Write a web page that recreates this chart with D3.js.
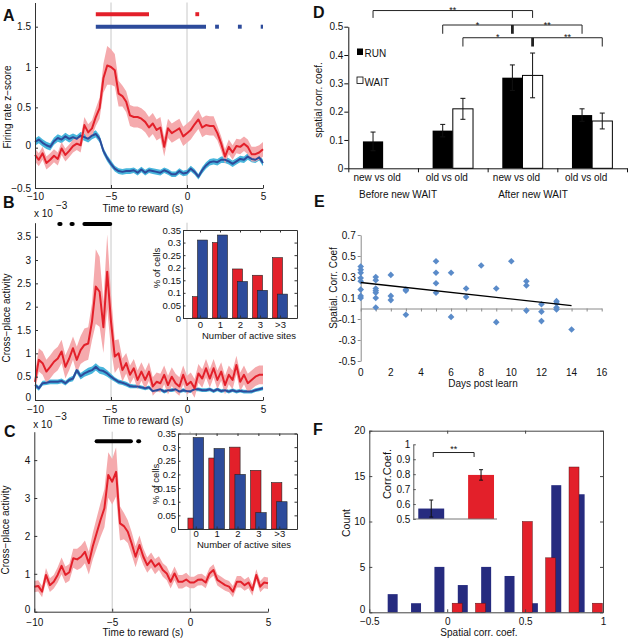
<!DOCTYPE html>
<html lang="en">
<head>
<meta charset="UTF-8"/>
<title>Reward-related activity figure</title>
<script src="https://d3js.org/d3.v7.min.js"></script>
<style>
  body { margin: 0; background: #fff; }
  svg { display: block; font-family: "Liberation Sans", Arial, sans-serif; }
  text { fill: #111; }
</style>
</head>
<body>
<script>
// ---- data ----
var times = d3.range(-10, 5.001, 0.25);   // sample grid, s
var refTimes = [-5, 0];

// A: firing rate z-score
var aRed = [-0.09,-0.15,-0.07,-0.19,-0.15,-0.10,-0.14,-0.01,-0.09,-0.04,
            0.02,0.05,0.03,0.28,0.19,0.24,0.38,0.49,0.86,1.02,
            1.00,0.96,0.67,0.64,0.57,0.40,0.38,0.38,0.36,0.32,
            0.25,0.30,0.22,0.25,0.01,0.24,0.18,0.21,0.24,0.14,
            0.18,0.22,0.29,0.35,0.25,0.28,0.27,0.27,0.18,0.05,
            -0.11,0.01,-0.06,0.02,0.01,0.05,0.01,-0.08,-0.08,-0.06,-0.02];
var aRedErr = [0.08,0.08,0.08,0.08,0.08,0.08,0.08,0.08,0.08,0.08,
               0.08,0.08,0.09,0.10,0.10,0.10,0.11,0.13,0.18,0.24,
               0.22,0.20,0.16,0.13,0.13,0.13,0.13,0.13,0.13,0.13,
               0.13,0.13,0.13,0.13,0.12,0.12,0.12,0.12,0.12,0.12,
               0.12,0.12,0.12,0.12,0.12,0.12,0.12,0.12,0.09,0.09,
               0.09,0.09,0.09,0.09,0.09,0.09,0.09,0.09,0.09,0.09,0.09];
var aBlue = [0.07,0.10,0.06,0.03,0.01,0.08,0.12,0.10,0.14,0.11,
             0.13,0.11,0.15,0.13,0.11,0.15,0.17,0.11,-0.04,-0.13,
             -0.20,-0.26,-0.29,-0.30,-0.29,-0.29,-0.28,-0.31,-0.27,-0.31,
             -0.28,-0.29,-0.30,-0.31,-0.28,-0.30,-0.33,-0.33,-0.29,-0.32,
             -0.31,-0.26,-0.30,-0.36,-0.28,-0.22,-0.18,-0.17,-0.18,-0.15,
             -0.15,-0.17,-0.20,-0.17,-0.14,-0.15,-0.11,-0.14,-0.15,-0.12,-0.19];
var aBlueErr = [0.045,0.045,0.045,0.045,0.045,0.045,0.045,0.045,0.045,0.045,
                0.045,0.045,0.045,0.045,0.045,0.045,0.045,0.045,0.04,0.04,
                0.04,0.035,0.035,0.035,0.035,0.035,0.035,0.035,0.035,0.035,
                0.035,0.035,0.035,0.035,0.035,0.035,0.035,0.035,0.035,0.035,
                0.035,0.035,0.035,0.035,0.04,0.04,0.04,0.04,0.04,0.04,
                0.04,0.04,0.04,0.04,0.04,0.04,0.04,0.04,0.04,0.04,0.04];
var aSigRed = [[-6.0,-2.5],[0.55,0.8]];
var aSigBlue = [[-6.0,1.25],[1.85,2.1],[3.35,3.6],[4.85,5.0]];

// B: cross-place activity (x 10^-3)
var bRed = [0.39,0.86,0.79,0.61,0.71,0.82,0.89,1.04,0.71,0.89,
            1.11,0.86,1.07,1.18,1.21,1.68,2.43,2.32,1.56,2.75,
            1.68,0.93,1.00,0.64,0.79,0.54,0.68,0.43,0.61,0.43,
            0.61,0.29,0.39,0.36,0.54,0.32,0.50,0.36,0.29,0.54,
            0.32,0.39,0.25,0.57,0.46,0.68,0.46,0.68,0.43,0.61,
            0.32,0.54,0.43,0.75,0.39,0.54,0.36,0.43,0.50,0.54,0.54];
var bRedErr = [0.20,0.25,0.25,0.25,0.25,0.25,0.25,0.25,0.25,0.25,
               0.25,0.28,0.30,0.35,0.35,0.40,0.80,0.75,0.55,0.80,
               0.60,0.35,0.30,0.25,0.22,0.20,0.20,0.20,0.20,0.20,
               0.20,0.20,0.20,0.20,0.20,0.20,0.20,0.20,0.20,0.20,
               0.20,0.20,0.20,0.20,0.20,0.20,0.20,0.20,0.20,0.20,
               0.20,0.20,0.20,0.20,0.20,0.20,0.20,0.20,0.20,0.20,0.20];
var bBlue = [0.32,0.25,0.36,0.37,0.39,0.39,0.39,0.41,0.36,0.43,
             0.46,0.64,0.51,0.57,0.61,0.64,0.71,0.64,0.62,0.57,
             0.50,0.44,0.39,0.37,0.34,0.30,0.29,0.29,0.27,0.25,
             0.27,0.19,0.21,0.23,0.18,0.21,0.21,0.23,0.18,0.21,
             0.19,0.19,0.23,0.23,0.21,0.21,0.23,0.19,0.23,0.19,
             0.21,0.18,0.21,0.18,0.20,0.18,0.18,0.18,0.21,0.23,0.25];
var bBlueErr = [0.05,0.05,0.05,0.05,0.05,0.05,0.05,0.05,0.05,0.05,
                0.06,0.07,0.07,0.07,0.08,0.08,0.08,0.08,0.08,0.07,
                0.06,0.05,0.05,0.05,0.05,0.05,0.04,0.04,0.04,0.04,
                0.04,0.04,0.04,0.04,0.04,0.04,0.04,0.04,0.04,0.04,
                0.04,0.04,0.04,0.04,0.04,0.04,0.04,0.04,0.04,0.04,
                0.04,0.04,0.04,0.04,0.04,0.04,0.04,0.04,0.04,0.04,0.04];
var bSig = [[-8.4,-8.32],[-7.6,-7.52],[-6.75,-5.05]];

// C: cross-place activity (x 10^-3)
var cRed = [0.66,0.68,0.53,0.97,0.70,0.79,0.97,1.21,0.97,1.04,
            1.41,1.38,1.45,1.58,1.28,1.72,2.07,2.42,2.73,3.61,
            3.43,3.69,2.33,2.26,2.11,1.80,1.45,1.76,1.45,1.23,
            1.36,1.19,1.28,1.10,1.01,0.79,1.01,0.79,0.79,0.85,
            0.77,0.77,0.84,0.85,0.77,1.01,1.10,0.84,0.77,0.70,
            0.66,0.53,0.79,0.79,0.70,0.77,0.57,0.97,0.66,0.77,0.75];
var cRedErr = [0.15,0.15,0.15,0.18,0.18,0.18,0.20,0.22,0.22,0.22,
               0.25,0.28,0.30,0.30,0.30,0.35,0.40,0.45,0.50,0.60,
               0.60,0.65,0.45,0.35,0.30,0.30,0.28,0.25,0.22,0.20,
               0.20,0.20,0.18,0.18,0.18,0.18,0.18,0.18,0.18,0.18,
               0.15,0.15,0.15,0.15,0.15,0.15,0.15,0.15,0.15,0.15,
               0.15,0.15,0.15,0.15,0.15,0.15,0.15,0.15,0.15,0.15,0.15];
var cSig = [[-6.0,-3.8],[-3.33,-3.27]];

// insets B and C: % of cells by number of active sites
var sites = ["0", "1", "2", "3", ">3"];
var bInsetRed = [0.085, 0.30, 0.195, 0.17, 0.24];
var bInsetBlue = [0.31, 0.33, 0.145, 0.11, 0.095];
var cInsetRed = [0.04, 0.26, 0.30, 0.215, 0.17];
var cInsetBlue = [0.335, 0.295, 0.20, 0.06, 0.10];

// D: spatial corr. coef.
var dGroups = ["new vs old", "old vs old", "new vs old", "old vs old"];
var dRun = [0.095, 0.133, 0.32, 0.188];
var dRunErr = [0.033, 0.022, 0.045, 0.022];
var dWait = [null, 0.21, 0.328, 0.167];
var dWaitErr = [null, 0.037, 0.079, 0.028];
var dPeriods = ["Before new WAIT", "After new WAIT"];

// E: spatial corr. coef vs days post learn
var eDays = [0,0,0,0,0,0,0,0, 1,1,1,1,1,1,1, 2,2,2, 3,3,3, 5,5,5,5, 6,6, 7,7, 8, 9,9, 10,
             11,11,11, 12,12,12, 13,13,13,13, 14];
var eCorr = [0.40,0.37,0.34,0.29,0.26,0.18,0.12,0.10, 0.30,0.27,0.19,0.17,0.15,0.10,0.01,
             0.32,0.12,0.08, 0.18,0.17,-0.06, 0.45,0.34,0.24,0.15, 0.34,-0.08, 0.19,0.11,
             0.41, 0.19,-0.13, 0.45, 0.26,0.22,-0.02, 0.04,-0.03,-0.12, 0.07,0.05,0.01,-0.01, -0.20];
var eFitDays = [0, 14];
var eFitCorr = [0.248, 0.027];

// F: histogram of spatial corr. coef.
var fBins = [-0.35, -0.2, -0.05, 0.1, 0.25, 0.4, 0.55, 0.7, 0.85, 1.0];
var fBlue = [2, 1, 5, 3, 5, 4, 1, 14, 13, 0];
var fRed = [0, 0, 0, 1, 1, 0, 10, 6, 16, 1];
var fInsetMean = [0.57, 0.795];
var fInsetErr = [0.057, 0.035];

// ---- drawing ----
var W = 628, H = 639;
var red = "#e3202a", redBand = "#f5aaad", blue = "#2d4b9b", cyan = "#48b6dc";
var fBlueCol = "#262b7f";

var svg = d3.select("body").append("svg").attr("width", W).attr("height", H);
svg.append("rect").attr("width", W).attr("height", H).attr("fill", "#fff");

function label(x, y, str, o) {
  o = o || {};
  var t = svg.append("text").attr("x", x).attr("y", y).text(str)
    .attr("font-size", o.size || 10)
    .attr("text-anchor", o.anchor || "start");
  if (o.rotate) t.attr("transform", "rotate(-90," + x + "," + y + ")");
  if (o.bold) t.attr("font-weight", "bold");
  return t;
}

function styleAxis(g, col, size) {
  g.attr("font-family", null).attr("font-size", null);
  g.selectAll("path, line").attr("stroke", col || "#333");
  g.selectAll("text").attr("font-size", size || 10).attr("fill", "#111");
  return g;
}

// lift the "0" label of a left axis so it clears the x labels in the corner
function liftZero(g) {
  g.selectAll(".tick text").filter(function(d) { return d === 0; }).attr("dy", "0.05em");
}

// line panels A, B, C
function linePanel(p) {
  var x = d3.scaleLinear().domain([-10, 5]).range([p.left, p.right]);
  var y = d3.scaleLinear().domain(p.yDomain).range([p.bottom, p.top]);
  var g = svg.append("g");

  g.selectAll(".ref").data(refTimes).enter().append("line")
    .attr("x1", function(d) { return x(d); })
    .attr("x2", function(d) { return x(d); })
    .attr("y1", p.bottom).attr("y2", p.top)
    .attr("stroke", "#c8c8c8").attr("stroke-width", 1);

  p.series.forEach(function(s) {
    var band = d3.area()
      .x(function(d, i) { return x(times[i]); })
      .y0(function(d, i) { return y(d - s.err[i]); })
      .y1(function(d, i) { return y(d + s.err[i]); });
    g.append("path").datum(s.vals).attr("d", band).attr("fill", s.band);
  });
  p.series.forEach(function(s) {
    var line = d3.line()
      .x(function(d, i) { return x(times[i]); })
      .y(function(d) { return y(d); });
    g.append("path").datum(s.vals).attr("d", line)
      .attr("fill", "none").attr("stroke", s.color).attr("stroke-width", 2)
      .attr("stroke-linejoin", "round");
  });

  p.sig.forEach(function(s) {
    g.selectAll(null).data(s.segs).enter().append("line")
      .attr("x1", function(d) { return x(d[0]); })
      .attr("x2", function(d) { return x(d[1]); })
      .attr("y1", y(s.level)).attr("y2", y(s.level))
      .attr("stroke", s.color).attr("stroke-width", 4)
      .attr("stroke-linecap", s.cap || "butt");
  });

  var yAxis = d3.axisLeft(y).tickValues(p.yTicks).tickSize(-3).tickSizeOuter(0)
    .tickPadding(4).tickFormat(d3.format("~g"));
  var yg = styleAxis(g.append("g").attr("transform", "translate(" + p.left + ",0)").call(yAxis));
  liftZero(yg);
  var xAxis = d3.axisBottom(x).tickValues([-10, -5, 0, 5]).tickSize(-3).tickSizeOuter(0)
    .tickPadding(p.xPad).tickFormat(d3.format("~g"));
  styleAxis(g.append("g").attr("transform", "translate(0," + p.bottom + ")").call(xAxis));

  label(143, p.bottom + 24, "Time to reward (s)", { anchor: "middle" });
  label(p.ylabX, p.ylabY, p.ylab, { anchor: "middle", rotate: true });
  if (p.exp) {
    label(p.left - 1, p.exp, "x 10");
    label(p.left + 21, p.exp - 8, "\u22123");
  }
}

linePanel({
  left: 35, right: 263, top: 2.5, bottom: 188, yDomain: [-0.5, 1.8],
  yTicks: [-0.5, 0, 0.5, 1, 1.5], xPad: 5,
  series: [{ vals: aBlue, err: aBlueErr, color: blue, band: cyan },
           { vals: aRed, err: aRedErr, color: red, band: redBand }],
  sig: [{ segs: aSigRed, level: 1.655, color: red },
        { segs: aSigBlue, level: 1.5, color: blue }],
  ylab: "Firing rate z\u2212score", ylabX: 11, ylabY: 107
});
linePanel({
  left: 35, right: 263, top: 222.7, bottom: 400, yDomain: [0, 3.8],
  yTicks: [0, 0.5, 1, 1.5, 2, 2.5, 3, 3.5], xPad: 6,
  series: [{ vals: bBlue, err: bBlueErr, color: blue, band: cyan },
           { vals: bRed, err: bRedErr, color: red, band: redBand }],
  sig: [{ segs: bSig, level: 3.77, color: "#000", cap: "round" }],
  ylab: "Cross\u2212place activity", ylabX: 9.5, ylabY: 318, exp: 217
});
linePanel({
  left: 34.3, right: 268, top: 431.7, bottom: 611.7, yDomain: [0, 4.75],
  yTicks: [0, 1, 2, 3, 4], xPad: 7,
  series: [{ vals: cRed, err: cRedErr, color: red, band: redBand }],
  sig: [{ segs: cSig, level: 4.5, color: "#000", cap: "round" }],
  ylab: "Cross\u2212place activity", ylabX: 8.5, ylabY: 530, exp: 428
});

// insets of B and C
function sitesInset(p) {
  var x = d3.scaleLinear().domain([-0.85, 4.85]).range([p.left, p.right]);
  var y = d3.scaleLinear().domain([0, 0.35]).range([p.bottom, p.top]);
  var g = svg.append("g");
  g.append("rect").attr("x", p.left).attr("y", p.top)
    .attr("width", p.right - p.left).attr("height", p.bottom - p.top).attr("fill", "#fff");
  var idx = d3.range(sites.length);
  [[p.red, red, -0.125], [p.blue, blue, 0.125]].forEach(function(s) {
    g.selectAll(null).data(idx).enter().append("rect")
      .attr("x", function(i) { return x(i + s[2] - 0.25); })
      .attr("width", x(0.5) - x(0))
      .attr("y", function(i) { return y(s[0][i]); })
      .attr("height", function(i) { return y(0) - y(s[0][i]); })
      .attr("fill", s[1]).attr("stroke", "#222").attr("stroke-width", 0.6);
  });
  var yt = [0, 0.05, 0.1, 0.15, 0.2, 0.25, 0.3, 0.35];
  styleAxis(g.append("g").attr("transform", "translate(" + p.left + ",0)")
    .call(d3.axisLeft(y).tickValues(yt).tickSize(-2.5).tickSizeOuter(0).tickPadding(2)
      .tickFormat(d3.format("~g"))), "#333", 9.5);
  styleAxis(g.append("g").attr("transform", "translate(" + p.right + ",0)")
    .call(d3.axisRight(y).tickValues(yt).tickSize(-2.5).tickSizeOuter(0).tickFormat("")));
  styleAxis(g.append("g").attr("transform", "translate(0," + p.bottom + ")")
    .call(d3.axisBottom(x).tickValues(idx).tickSize(-2.5).tickSizeOuter(0).tickPadding(p.xPad)
      .tickFormat(function(i) { return sites[i]; })), "#333", 9.5);
  styleAxis(g.append("g").attr("transform", "translate(0," + p.top + ")")
    .call(d3.axisTop(x).tickValues(idx).tickSize(-2.5).tickSizeOuter(0).tickFormat("")));
  label(p.titleX, p.titleY, "Number of active sites", { anchor: "middle", size: 9.5 });
  label(p.ylabX, p.ylabY, "% of cells", { anchor: "middle", size: 9.5, rotate: true });
}
sitesInset({ left: 183, right: 297, top: 230, bottom: 318, red: bInsetRed, blue: bInsetBlue,
             xPad: 3, titleX: 249, titleY: 339, ylabX: 160, ylabY: 268 });
sitesInset({ left: 178, right: 297, top: 433.5, bottom: 529, red: cInsetRed, blue: cInsetBlue,
             xPad: 1, titleX: 244, titleY: 548, ylabX: 159, ylabY: 484 });

// D: grouped bars with brackets
(function() {
  var x = d3.scaleLinear().domain([0, 4]).range([348.3, 627]);
  var y = d3.scaleLinear().domain([0, 0.5]).range([168.3, 26.7]);
  var bw = (x(1) - x(0)) * 0.29;
  function cx(i, kind) { return x(i + 0.5) + (kind === "run" ? -bw / 2 : bw / 2); }
  var g = svg.append("g");
  var idx = d3.range(dGroups.length);

  g.selectAll(null).data(idx).enter().append("rect")
    .attr("x", function(i) { return cx(i, "run") - bw / 2; }).attr("width", bw)
    .attr("y", function(i) { return y(dRun[i]); })
    .attr("height", function(i) { return y(0) - y(dRun[i]); })
    .attr("fill", "#000");
  var wIdx = idx.filter(function(i) { return dWait[i] !== null; });
  g.selectAll(null).data(wIdx).enter().append("rect")
    .attr("x", function(i) { return cx(i, "wait") - bw / 2; }).attr("width", bw)
    .attr("y", function(i) { return y(dWait[i]); })
    .attr("height", function(i) { return y(0) - y(dWait[i]); })
    .attr("fill", "#fff").attr("stroke", "#000").attr("stroke-width", 1);

  var errs = idx.map(function(i) { return { x: cx(i, "run"), v: dRun[i], e: dRunErr[i] }; })
    .concat(wIdx.map(function(i) { return { x: cx(i, "wait"), v: dWait[i], e: dWaitErr[i] }; }));
  errs.forEach(function(d) {
    g.append("line").attr("x1", d.x).attr("x2", d.x)
      .attr("y1", y(d.v - d.e)).attr("y2", y(d.v + d.e)).attr("stroke", "#111");
    [d.v - d.e, d.v + d.e].forEach(function(v) {
      g.append("line").attr("x1", d.x - 2.5).attr("x2", d.x + 2.5)
        .attr("y1", y(v)).attr("y2", y(v)).attr("stroke", "#111");
    });
  });

  styleAxis(g.append("g").attr("transform", "translate(" + x(0) + ",0)")
    .call(d3.axisLeft(y).tickValues([0, 0.1, 0.2, 0.3, 0.4, 0.5]).tickSize(4).tickSizeOuter(0)
      .tickPadding(1).tickFormat(d3.format("~g"))), "#111", 10);
  styleAxis(g.append("g").attr("transform", "translate(0," + y(0) + ")")
    .call(d3.axisBottom(x).tickValues([0, 1, 2, 3, 4]).tickSize(4).tickSizeOuter(0).tickFormat("")), "#111");

  idx.forEach(function(i) { label(x(i + 0.5) - 6, 181, dGroups[i], { anchor: "middle", size: 10 }); });
  label(398, 198, dPeriods[0], { anchor: "middle", size: 10 });
  label(533, 198, dPeriods[1], { anchor: "middle", size: 10 });
  label(322, 100, "spatial corr. coef.", { anchor: "middle", size: 10, rotate: true });

  // legend
  g.append("rect").attr("x", 357).attr("y", 48.5).attr("width", 6).attr("height", 6.5).attr("fill", "#000");
  label(364.5, 56.5, "RUN", { size: 10 });
  g.append("rect").attr("x", 357).attr("y", 77).attr("width", 6).attr("height", 6.5)
    .attr("fill", "#fff").attr("stroke", "#000").attr("stroke-width", 0.8);
  label(364.5, 85.5, "WAIT", { size: 10 });

  // significance brackets
  var brackets = [
    { level: 0.557, foot: 0.531, legs: [[0, "run"], [2, "run"], [2, "wait"]], thick: -1,
      stars: [[0, 2, "**"]] },
    { level: 0.506, foot: 0.475, legs: [[1, "run"], [2, "run"], [3, "run"]], thick: 1,
      stars: [[0, 1, "*"], [1, 2, "**"]] },
    { level: 0.461, foot: 0.43, legs: [[1, "wait"], [2, "wait"], [3, "wait"]], thick: 1,
      stars: [[0, 1, "*"], [1, 2, "**"]] }
  ];
  brackets.forEach(function(b) {
    var xs = b.legs.map(function(l) { return cx(l[0], l[1]); });
    g.append("line").attr("x1", d3.min(xs)).attr("x2", d3.max(xs))
      .attr("y1", y(b.level)).attr("y2", y(b.level)).attr("stroke", "#222");
    xs.forEach(function(xv, k) {
      g.append("line").attr("x1", xv).attr("x2", xv)
        .attr("y1", y(b.level)).attr("y2", y(b.foot)).attr("stroke", "#222")
        .attr("stroke-width", k === b.thick ? 2.8 : 1);
    });
    b.stars.forEach(function(s) {
      label((xs[s[0]] + xs[s[1]]) / 2, y(b.level) + 2.5, s[2], { anchor: "middle", size: 9 });
    });
  });
})();

// E: scatter with fit
(function() {
  var x = d3.scaleLinear().domain([0, 16]).range([360.7, 601.7]);
  var y = d3.scaleLinear().domain([-0.5, 0.7]).range([361, 235]);
  var g = svg.append("g");
  var grey = "#8a8a8a";
  styleAxis(g.append("g").attr("transform", "translate(" + x(0) + ",0)")
    .call(d3.axisLeft(y).tickValues([-0.5, -0.3, -0.1, 0.1, 0.3, 0.5, 0.7]).tickSize(3)
      .tickSizeOuter(0).tickPadding(2)
      .tickFormat(function(d) { return d3.format(".1f")(d).replace("\u2212", "-"); })), grey, 10);
  styleAxis(g.append("g").attr("transform", "translate(0," + y(0) + ")")
    .call(d3.axisBottom(x).tickValues(d3.range(0, 17)).tickSize(3).tickSizeOuter(0).tickFormat("")), grey);
  d3.range(0, 17, 2).forEach(function(d) { label(x(d), 376, d, { anchor: "middle", size: 10 }); });

  g.selectAll(null).data(eDays).enter().append("path")
    .attr("d", d3.symbol().type(d3.symbolSquare).size(22))
    .attr("transform", function(d, i) { return "translate(" + x(d) + "," + y(eCorr[i]) + ") rotate(45)"; })
    .attr("fill", "#5a8bc9");
  g.append("line").attr("x1", x(eFitDays[0])).attr("x2", x(eFitDays[1]))
    .attr("y1", y(eFitCorr[0])).attr("y2", y(eFitCorr[1]))
    .attr("stroke", "#000").attr("stroke-width", 1.4);

  label(483, 387, "Days post learn", { anchor: "middle", size: 10 });
  label(337, 288, "Spatial. Corr. Coef", { anchor: "middle", size: 10, rotate: true });
})();

// F: histogram with inset
(function() {
  var x = d3.scaleLinear().domain([-0.5, 1]).range([369.3, 603]);
  var y = d3.scaleLinear().domain([0, 20]).range([612.3, 430.7]);
  var g = svg.append("g");
  var bw = x(0.064) - x(0);
  var idx = d3.range(fBins.length);
  g.selectAll(null).data(idx.filter(function(i) { return fBlue[i] > 0; })).enter().append("rect")
    .attr("x", function(i) { return x(fBins[i]) - bw / 2; }).attr("width", bw)
    .attr("y", function(i) { return y(fBlue[i]); })
    .attr("height", function(i) { return y(0) - y(fBlue[i]); })
    .attr("fill", fBlueCol);
  g.selectAll(null).data(idx.filter(function(i) { return fRed[i] > 0; })).enter().append("rect")
    .attr("x", function(i) { return x(fBins[i] - 0.036) - bw / 2; }).attr("width", bw)
    .attr("y", function(i) { return y(fRed[i]); })
    .attr("height", function(i) { return y(0) - y(fRed[i]); })
    .attr("fill", red).attr("stroke", "#5a1015").attr("stroke-width", 0.5);

  var yt = [0, 5, 10, 15, 20], xt = [-0.5, 0, 0.5, 1];
  var fy = styleAxis(g.append("g").attr("transform", "translate(" + x.range()[0] + ",0)")
    .call(d3.axisLeft(y).tickValues(yt).tickSize(-3).tickSizeOuter(0).tickPadding(4)), "#444", 10);
  liftZero(fy);
  styleAxis(g.append("g").attr("transform", "translate(" + x.range()[1] + ",0)")
    .call(d3.axisRight(y).tickValues(yt).tickSize(-3).tickSizeOuter(0).tickFormat("")), "#444");
  styleAxis(g.append("g").attr("transform", "translate(0," + y(0) + ")")
    .call(d3.axisBottom(x).tickValues(xt).tickSize(-3).tickSizeOuter(0).tickPadding(6)
      .tickFormat(d3.format("~g"))), "#444", 10);
  styleAxis(g.append("g").attr("transform", "translate(0," + y(20) + ")")
    .call(d3.axisTop(x).tickValues(xt).tickSize(-3).tickSizeOuter(0).tickFormat("")), "#444");
  label(479, 636, "Spatial corr. coef.", { anchor: "middle", size: 10 });
  label(350, 523, "Count", { anchor: "middle", size: 10.5, rotate: true });

  // inset bar chart
  var xi = d3.scaleLinear().domain([0.64, 2.32]).range([413.3, 497]);
  var yi = d3.scaleLinear().domain([0.5, 1]).range([519, 444.3]);
  var ibw = xi(1.52) - xi(1);
  var cols = [fBlueCol, red];
  g.selectAll(null).data([0, 1]).enter().append("rect")
    .attr("x", function(i) { return xi(i + 1) - ibw / 2; }).attr("width", ibw)
    .attr("y", function(i) { return yi(fInsetMean[i]); })
    .attr("height", function(i) { return yi(0.5) - yi(fInsetMean[i]); })
    .attr("fill", function(i) { return cols[i]; });
  [0, 1].forEach(function(i) {
    var cxi = xi(i + 1), lo = fInsetMean[i] - fInsetErr[i], hi = fInsetMean[i] + fInsetErr[i];
    g.append("line").attr("x1", cxi).attr("x2", cxi).attr("y1", yi(lo)).attr("y2", yi(hi)).attr("stroke", "#111");
    [lo, hi].forEach(function(v) {
      g.append("line").attr("x1", cxi - 2).attr("x2", cxi + 2).attr("y1", yi(v)).attr("y2", yi(v)).attr("stroke", "#111");
    });
  });
  styleAxis(g.append("g").attr("transform", "translate(" + xi.range()[0] + ",0)")
    .call(d3.axisLeft(yi).tickValues([0.5, 0.6, 0.7, 0.8, 0.9, 1]).tickSize(-2.5).tickSizeOuter(0)
      .tickPadding(3).tickFormat(d3.format("~g"))), "#555", 10);
  g.append("line").attr("x1", xi.range()[0]).attr("x2", xi.range()[1])
    .attr("y1", yi(0.5)).attr("y2", yi(0.5)).attr("stroke", "#777");
  // ** bracket
  var by = yi(0.945), bl = yi(0.915);
  g.append("path").attr("d", "M" + xi(1.04) + "," + bl + "V" + by + "H" + xi(1.86) + "V" + bl)
    .attr("fill", "none").attr("stroke", "#222");
  label((xi(1.04) + xi(1.86)) / 2, by - 1, "**", { anchor: "middle", size: 9 });
  label(391, 474, "Corr.Coef.", { anchor: "middle", size: 11, rotate: true });
})();

// panel letters
[["A", 3, 21], ["B", 3, 208], ["C", 4, 437], ["D", 313, 18], ["E", 314, 207], ["F", 313, 435]]
  .forEach(function(d) { label(d[1], d[2], d[0], { size: 16, bold: true }); });
</script>
</body>
</html>
